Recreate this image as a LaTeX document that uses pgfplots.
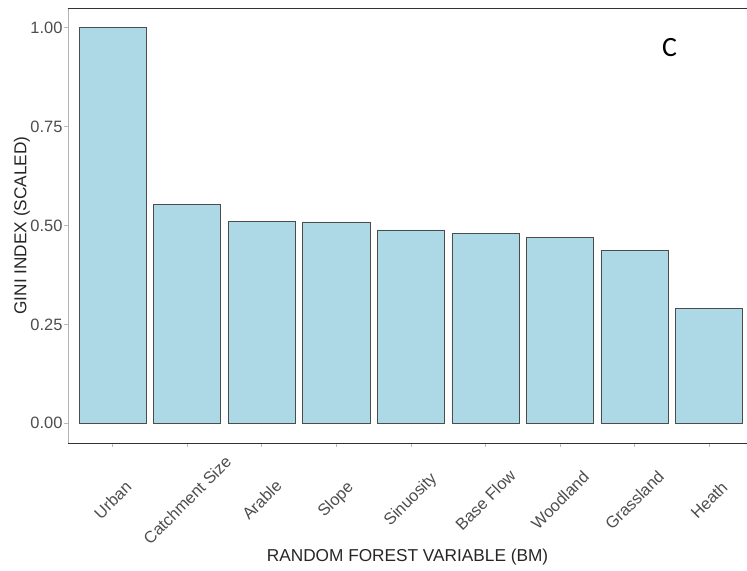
\documentclass[border=0pt]{standalone}
\usepackage{pgfplots}
\pgfplotsset{compat=1.18}
\usepackage{fontspec}
\setmainfont{Liberation Sans}
\newfontfamily\panelfont{Carlito}
\definecolor{barfill}{HTML}{ADD8E6}
\definecolor{tickgray}{HTML}{4D4D4D}

\pgfplotstableread{
idx gini
0 1.000
1 0.553
2 0.510
3 0.509
4 0.489
5 0.479
6 0.469
7 0.436
8 0.291
}\ginitable

\begin{document}
\begin{tikzpicture}
\begin{axis}[
    scale only axis,
    width=679bp, height=435bp,
    xmin=-0.6, xmax=8.51,
    ymin=-0.05, ymax=1.05,
    axis line style={draw=none},
    xtick=data,
    xticklabels={Urban,Catchment Size,Arable,Slope,Sinuosity,Base Flow,Woodland,Grassland,Heath},
    ytick={0,0.25,0.5,0.75,1},
    yticklabels={0.00,0.25,0.50,0.75,1.00},
    xtick pos=lower, ytick pos=left,
    tick align=outside,
    major tick length=4bp,
    tick style={gray!55, line width=0.6bp},
    ticklabel style={font=\fontsize{16.5}{19}\selectfont, text=tickgray},
    xticklabel style={rotate=45, anchor=center, xshift=-37.5bp, yshift=-37.5bp},
    yticklabel style={xshift=2bp},
    xlabel={RANDOM FOREST VARIABLE (BM)},
    ylabel={GINI INDEX (SCALED)},
    label style={font=\fontsize{17.3}{20}\selectfont, text=black!85},
    xlabel style={at={(axis description cs:0.5,0)}, anchor=center, yshift=-114bp},
    ylabel style={at={(axis description cs:0,0.5)}, anchor=center, yshift=46bp},
    clip=false,
]
\addplot[ybar, bar width=0.9, fill=barfill, draw=black!70, line width=0.7bp]
    table[x=idx, y=gini]{\ginitable};
% panel frame: left, top and bottom
\draw[gray!60, line width=0.8bp] (rel axis cs:0,0) -- (rel axis cs:0,1);
\draw[black!80, line width=0.9bp] (rel axis cs:0,1) -- (rel axis cs:1,1);
\draw[black!80, line width=0.9bp] (rel axis cs:0,0) -- (rel axis cs:1,0);
\node[font=\panelfont\fontsize{28}{30}\selectfont] at (axis cs:7.47,0.95) {C};
\end{axis}
\pgfresetboundingbox
\path ([xshift=-68bp,yshift=-127bp]current axis.south west) rectangle ([yshift=8bp]current axis.north east);
\end{tikzpicture}
\end{document}
